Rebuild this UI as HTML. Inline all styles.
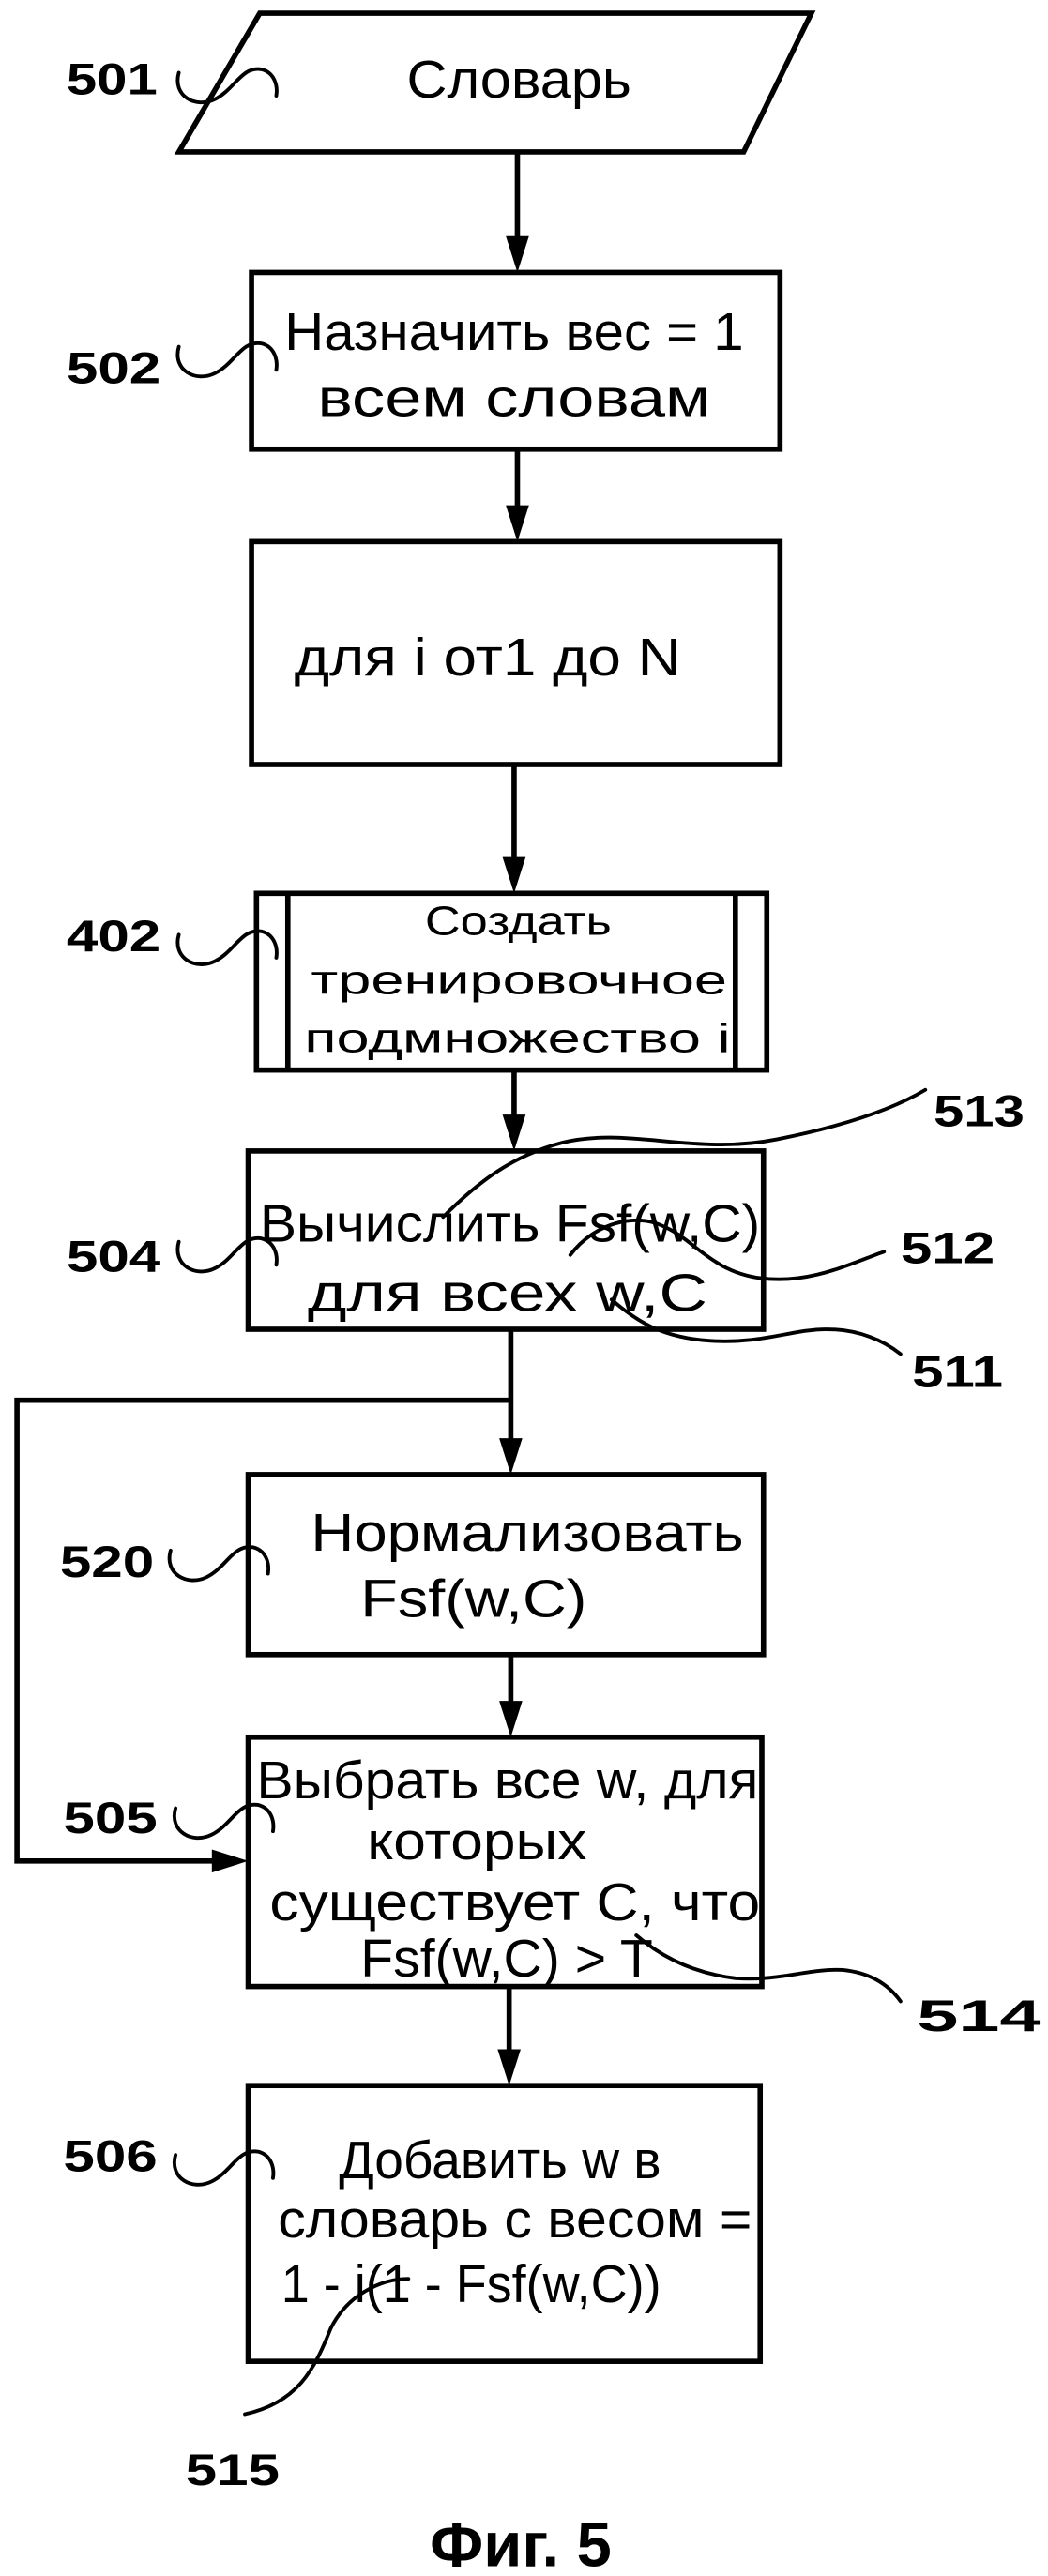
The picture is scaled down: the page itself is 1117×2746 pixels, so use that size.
<!DOCTYPE html>
<html><head><meta charset="utf-8"><style>
html,body{margin:0;padding:0;background:#fff;}
svg{display:block;}
text{font-family:"Liberation Sans",Arial,sans-serif;fill:#000;}
.t{font-size:32px;text-anchor:start;}
.s{font-size:25px;}
.l{font-size:27px;font-weight:bold;}
</style></head><body>
<svg width="1117" height="2746" viewBox="0 0 634 1560" xmlns="http://www.w3.org/2000/svg">
<g fill="none" stroke="#000" stroke-width="3.2" stroke-linejoin="miter">
<polygon points="157,8 491,8 450,92 108,92" fill="#fff"/>
<rect x="152" y="165" width="320" height="107"/>
<rect x="152" y="328" width="320" height="135"/>
<rect x="155" y="541" width="309" height="107"/>
<line x1="174" y1="541" x2="174" y2="648"/>
<line x1="445" y1="541" x2="445" y2="648"/>
<rect x="150" y="697" width="312" height="108"/>
<rect x="150" y="893" width="312" height="109"/>
<rect x="150" y="1052" width="311" height="151"/>
<rect x="150" y="1263" width="310" height="167"/>
</g>
<g stroke="#000" stroke-width="3.2" fill="none">
<line x1="313" y1="92" x2="313" y2="150"/>
<line x1="313" y1="272" x2="313" y2="312"/>
<line x1="311" y1="463" x2="311" y2="525"/>
<line x1="311" y1="648" x2="311" y2="682"/>
<line x1="309" y1="805" x2="309" y2="878"/>
<line x1="309" y1="1002" x2="309" y2="1036"/>
<line x1="308" y1="1203" x2="308" y2="1248"/>
<polyline points="309,848 10,848 10,1127 133,1127"/>
</g>
<g fill="#000">
<polygon points="306,143 320,143 313,165"/>
<polygon points="306,306 320,306 313,328"/>
<polygon points="304,519 318,519 311,541"/>
<polygon points="304,675 318,675 311,697"/>
<polygon points="302,871 316,871 309,893"/>
<polygon points="302,1030 316,1030 309,1052"/>
<polygon points="301,1241 315,1241 308,1263"/>
<polygon points="128,1120 128,1134 150,1127"/>
</g>
<g stroke="#000" stroke-width="2.2" fill="none" stroke-linecap="round">
<path d="M108,44 C104,58 118,66 130,60 C142,54 146,40 158,42 C166,44 168,52 167,58"/>
<path d="M108,210 C104,224 118,232 130,226 C142,220 146,206 158,208 C166,210 168,218 167,224"/>
<path d="M108,566 C104,580 118,588 130,582 C142,576 146,562 158,564 C166,566 168,574 167,580"/>
<path d="M108,752 C104,766 118,774 130,768 C142,762 146,748 158,750 C166,752 168,760 167,766"/>
<path d="M103,939 C99,953 113,961 125,955 C137,949 141,935 153,937 C161,939 163,947 162,953"/>
<path d="M106,1095 C102,1109 116,1117 128,1111 C140,1105 144,1091 156,1093 C164,1095 166,1103 165,1109"/>
<path d="M106,1305 C102,1319 116,1327 128,1321 C140,1315 144,1301 156,1303 C164,1305 166,1313 165,1319"/>
<path d="M268,737 C290,715 310,700 340,692 C380,682 420,700 470,690 C510,682 540,672 560,660"/>
<path d="M345,760 C360,740 385,735 400,742 C420,750 430,770 460,774 C490,778 515,765 535,758"/>
<path d="M370,787 C385,800 400,810 430,812 C460,814 480,805 500,805 C520,805 535,812 545,820"/>
<path d="M385,1172 C400,1185 420,1195 445,1198 C470,1200 490,1192 510,1193 C530,1195 540,1205 545,1212"/>
<path d="M247,1380 C230,1380 210,1390 200,1410 C190,1435 180,1455 148,1462"/>
</g>
<text class="t" x="246" y="59" textLength="136" lengthAdjust="spacingAndGlyphs">Словарь</text>
<text class="t" x="172" y="212" textLength="278" lengthAdjust="spacingAndGlyphs">Назначить вес = 1</text>
<text class="t" x="192" y="252" textLength="238" lengthAdjust="spacingAndGlyphs">всем словам</text>
<text class="t" x="178" y="409" textLength="234" lengthAdjust="spacingAndGlyphs">для i от1 до N</text>
<text class="s" x="257" y="566" textLength="113" lengthAdjust="spacingAndGlyphs">Создать</text>
<text class="s" x="188" y="602" textLength="252" lengthAdjust="spacingAndGlyphs">тренировочное</text>
<text class="s" x="184" y="637" textLength="258" lengthAdjust="spacingAndGlyphs">подмножество i</text>
<text class="t" x="157" y="752" textLength="303" lengthAdjust="spacingAndGlyphs">Вычислить Fsf(w,C)</text>
<text class="t" x="186" y="794" textLength="242" lengthAdjust="spacingAndGlyphs">для всех w,C</text>
<text class="t" x="188" y="939" textLength="262" lengthAdjust="spacingAndGlyphs">Нормализовать</text>
<text class="t" x="218" y="979" textLength="137" lengthAdjust="spacingAndGlyphs">Fsf(w,C)</text>
<text class="t" x="155" y="1089" textLength="304" lengthAdjust="spacingAndGlyphs">Выбрать все w, для</text>
<text class="t" x="222" y="1126" textLength="133" lengthAdjust="spacingAndGlyphs">которых</text>
<text class="t" x="163" y="1163" textLength="297" lengthAdjust="spacingAndGlyphs">существует С, что</text>
<text class="t" x="218" y="1197" textLength="177" lengthAdjust="spacingAndGlyphs">Fsf(w,C) &gt; T</text>
<text class="t" x="205" y="1319" textLength="195" lengthAdjust="spacingAndGlyphs">Добавить w в</text>
<text class="t" x="168" y="1355" textLength="287" lengthAdjust="spacingAndGlyphs">словарь с весом =</text>
<text class="t" x="170" y="1394" textLength="230" lengthAdjust="spacingAndGlyphs">1 - i(1 - Fsf(w,C))</text>
<text class="l" x="40" y="57" textLength="55" lengthAdjust="spacingAndGlyphs">501</text>
<text class="l" x="40" y="232" textLength="57" lengthAdjust="spacingAndGlyphs">502</text>
<text class="l" x="40" y="576" textLength="57" lengthAdjust="spacingAndGlyphs">402</text>
<text class="l" x="40" y="770" textLength="57" lengthAdjust="spacingAndGlyphs">504</text>
<text class="l" x="36" y="955" textLength="57" lengthAdjust="spacingAndGlyphs">520</text>
<text class="l" x="38" y="1110" textLength="57" lengthAdjust="spacingAndGlyphs">505</text>
<text class="l" x="38" y="1315" textLength="57" lengthAdjust="spacingAndGlyphs">506</text>
<text class="l" x="565" y="682" textLength="55" lengthAdjust="spacingAndGlyphs">513</text>
<text class="l" x="545" y="765" textLength="57" lengthAdjust="spacingAndGlyphs">512</text>
<text class="l" x="552" y="840" textLength="55" lengthAdjust="spacingAndGlyphs">511</text>
<text class="l" x="555" y="1230" textLength="75" lengthAdjust="spacingAndGlyphs">514</text>
<text class="l" x="112" y="1505" textLength="57" lengthAdjust="spacingAndGlyphs">515</text>
<text x="315" y="1554" text-anchor="middle" style="font-size:38px;font-weight:bold">Фиг. 5</text>
</svg>
</body></html>
